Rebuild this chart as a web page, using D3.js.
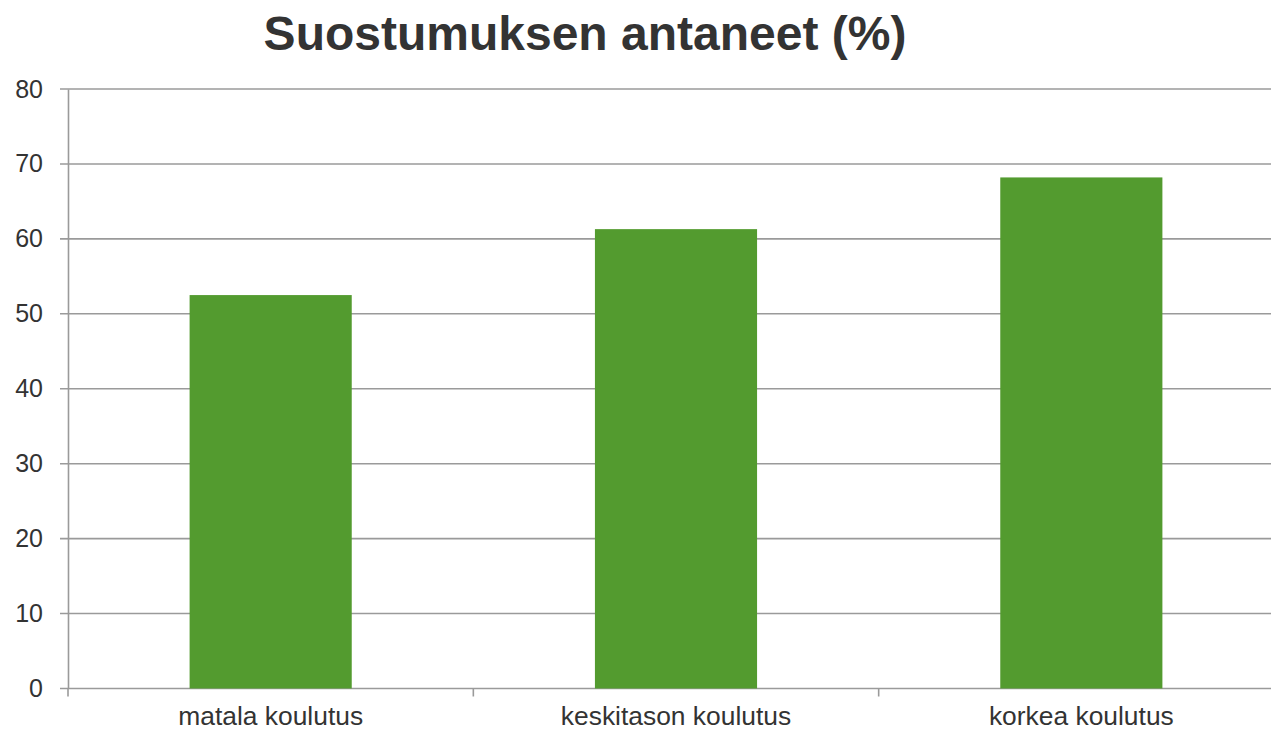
<!DOCTYPE html>
<html><head><meta charset="utf-8">
<script src="https://cdn.jsdelivr.net/npm/d3@7"></script>
<style>html,body{margin:0;padding:0;background:#fff;overflow:hidden}</style>
</head><body>
<svg id="c" width="1271" height="731"></svg>
<script>
const categories = ["matala koulutus", "keskitason koulutus", "korkea koulutus"];
const values = [52.5, 61.3, 68.2];
const yTicks = [0, 10, 20, 30, 40, 50, 60, 70, 80];
const title = "Suostumuksen antaneet (%)";

(function () {
const svg = d3.select("#c");
const font = "'Liberation Sans', Arial, sans-serif";
const pl = 68, pr = 1284, pt = 89, pb = 688.5;
const xb = d3.scaleBand().domain(categories).range([pl, pr]);
const y = d3.scaleLinear().domain([0, 80]).range([pb, pt]);
const grid = "#9a9a9a";

// gridlines
svg.append("g").selectAll("line").data(yTicks).join("line")
  .attr("x1", pl - 8).attr("x2", 1271)
  .attr("y1", d => y(d)).attr("y2", d => y(d))
  .attr("stroke", grid).attr("stroke-width", 1.6);

// bars
svg.append("g").selectAll("rect").data(values).join("rect")
  .attr("x", (d, i) => xb(categories[i]) + xb.bandwidth() * 0.3)
  .attr("width", xb.bandwidth() * 0.4)
  .attr("y", d => y(d)).attr("height", d => pb - y(d))
  .attr("fill", "#539b2f");

// y axis
const ya = svg.append("g").attr("transform", `translate(${pl},0)`)
  .call(d3.axisLeft(y).tickValues(yTicks).tickSize(0).tickPadding(25));
ya.select(".domain").attr("stroke", grid).attr("stroke-width", 1.6);
ya.selectAll("text").attr("font-family", font).attr("font-size", 25).attr("fill", "#333");

// x axis
const xa = svg.append("g").attr("transform", `translate(0,${pb})`)
  .call(d3.axisBottom(xb).tickSize(0).tickPadding(17.5));
xa.select(".domain").remove();
xa.selectAll("text").attr("font-family", font).attr("font-size", 26.4).attr("fill", "#333");
const bounds = categories.map(c => xb(c));
svg.append("g").selectAll("line").data(bounds).join("line")
  .attr("x1", d => d).attr("x2", d => d).attr("y1", pb).attr("y2", pb + 8)
  .attr("stroke", grid).attr("stroke-width", 1.6);

svg.append("text").attr("x", 585).attr("y", 50).attr("text-anchor", "middle")
  .attr("font-family", font).attr("font-weight", "bold").attr("font-size", 48)
  .attr("fill", "#333").text(title);
})();
</script>
</body></html>
